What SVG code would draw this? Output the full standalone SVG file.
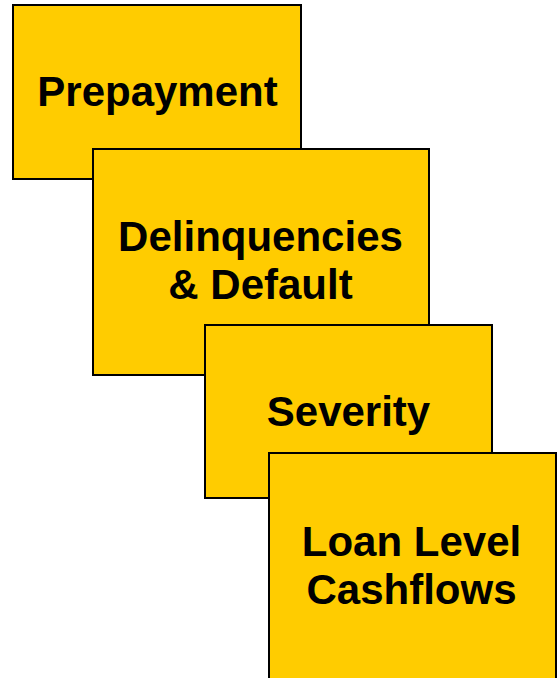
<svg xmlns="http://www.w3.org/2000/svg" width="557" height="678" viewBox="0 0 557 678">
<style>
.box{fill:#FFCC00;stroke:#000;stroke-width:2}
.lbl{font-family:"Liberation Sans",Arial,sans-serif;font-weight:bold;font-size:42px;fill:#000;text-anchor:middle}
</style>
<rect width="557" height="678" fill="#fff"/>
<g id="connectors"></g>
<g id="prepayment">
<rect class="box" x="13" y="5" width="288" height="174"/>
<text class="lbl" x="157.5" y="106">Prepayment</text>
</g>
<g id="delinquencies">
<rect class="box" x="93" y="149" width="336" height="226"/>
<text class="lbl" x="260.5" y="251">Delinquencies</text>
<text class="lbl" x="260.5" y="299">&amp; Default</text>
</g>
<g id="severity">
<rect class="box" x="205" y="325" width="287" height="173"/>
<text class="lbl" x="348.5" y="426">Severity</text>
</g>
<g id="loan-level">
<rect class="box" x="269" y="453" width="287" height="240"/>
<text class="lbl" x="411.5" y="556">Loan Level</text>
<text class="lbl" x="411.5" y="604">Cashflows</text>
</g>
</svg>
